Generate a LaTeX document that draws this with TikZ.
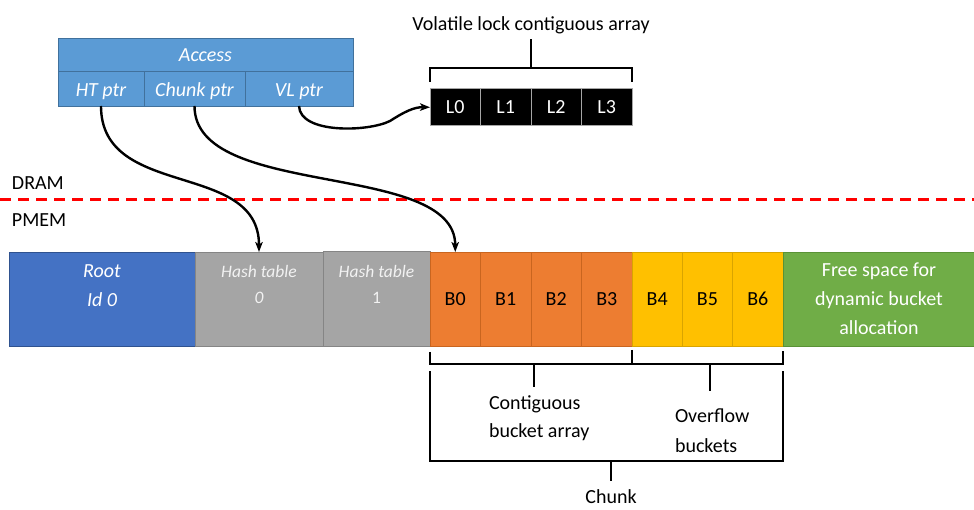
\documentclass[tikz,border=0pt]{standalone}
\usepackage{fontspec}
\setmainfont{Carlito}
\usetikzlibrary{arrows.meta}

\definecolor{accessblue}{HTML}{5B9BD5}
\definecolor{accessedge}{HTML}{41719C}
\definecolor{rootblue}{HTML}{4472C4}
\definecolor{rootedge}{HTML}{2F528F}
\definecolor{htgray}{HTML}{A5A5A5}
\definecolor{htedge}{HTML}{858585}
\definecolor{htext}{HTML}{F2F2F2}
\definecolor{bkorange}{HTML}{ED7D31}
\definecolor{bkorangeedge}{HTML}{C9651F}
\definecolor{bkyellow}{HTML}{FFC000}
\definecolor{bkyellowedge}{HTML}{D9A400}
\definecolor{freegreen}{HTML}{70AD47}
\definecolor{freeedge}{HTML}{5A9236}
\definecolor{lockedge}{HTML}{A6A6A6}
\definecolor{memline}{HTML}{FF0000}

\tikzset{
  cell/.style={rectangle, inner sep=0pt, outer sep=0pt, anchor=north west, line width=0.8pt},
  txt/.style={inner sep=0pt, outer sep=0pt, anchor=base, font=\fontsize{20}{29}\selectfont},
  smalltxt/.style={inner sep=0pt, outer sep=0pt, anchor=base, font=\fontsize{17.5}{26}\selectfont\itshape, text=htext},
  acc/.style={cell, fill=accessblue, draw=accessedge},
  lock/.style={cell, fill=black, draw=lockedge, line width=1pt, minimum width=50.5pt, minimum height=36.5pt,
               text=white, font=\fontsize{20}{24}\selectfont},
  bucket/.style={cell, minimum height=94pt, font=\fontsize{20}{24}\selectfont},
  orangebk/.style={bucket, fill=bkorange, draw=bkorangeedge, minimum width=50.5pt},
  yellowbk/.style={bucket, fill=bkyellow, draw=bkyellowedge, minimum width=50.33pt},
  conn/.style={line width=2.4pt, -{Stealth[length=10pt,width=7.5pt,inset=2.5pt]}},
  brace/.style={line width=2.6pt, line cap=butt, line join=miter},
}

\begin{document}
\begin{tikzpicture}[x=1pt,y=-1pt]
\useasboundingbox (0,0) rectangle (974,510);

% ---- Access structure (DRAM) ----
\node[acc, minimum width=295pt, minimum height=33pt] (access) at (58,38) {};
\node[acc, minimum width=86pt,  minimum height=35pt] (htp)    at (58,71) {};
\node[acc, minimum width=101pt, minimum height=35pt] (chp)    at (144,71) {};
\node[acc, minimum width=108pt, minimum height=35pt] (vlp)    at (245,71) {};
\node[txt, font=\fontsize{20}{24}\selectfont\itshape, text=white] (accessT) at (205.5,62) {Access};
\node[txt, font=\fontsize{20}{24}\selectfont\itshape, text=white] (htpT) at (101,97) {HT ptr};
\node[txt, font=\fontsize{20}{24}\selectfont\itshape, text=white] (chpT) at (194.5,97) {Chunk ptr};
\node[txt, font=\fontsize{20}{24}\selectfont\itshape, text=white] (vlpT) at (299,97) {VL ptr};

% ---- Volatile lock array ----
\node[lock] (l0) at (430,89)   {L0};
\node[lock] (l1) at (480.5,89) {L1};
\node[lock] (l2) at (531,89)   {L2};
\node[lock] (l3) at (581.5,89) {L3};
\node[txt] (volT) at (531,31) {Volatile lock contiguous array};
\draw[brace] (430,82) -- (430,68) -- (632,68) -- (632,82);
\draw[brace] (531,68) -- (531,39);

% ---- DRAM / PMEM boundary ----
\node[txt, anchor=base west] (dramT) at (12,190) {DRAM};
\node[txt, anchor=base west] (pmemT) at (12,227) {PMEM};
\coordinate (bndL) at (0,200);
\coordinate (bndR) at (974,200);
\draw[memline, line width=3pt, dash pattern=on 11pt off 7pt] (bndL) -- (bndR);

% ---- Persistent memory layout ----
\node[cell, fill=rootblue, draw=rootedge, minimum width=186pt, minimum height=94pt] (root) at (9,252) {};
\node[cell, fill=htgray, draw=htedge, minimum width=128pt, minimum height=94pt] (ht0) at (195,252) {};
\node[cell, fill=htgray, draw=htedge, minimum width=107pt, minimum height=95pt] (ht1) at (323,251) {};
\node[orangebk] (b0) at (430,252)   {B0};
\node[orangebk] (b1) at (480.5,252) {B1};
\node[orangebk] (b2) at (531,252)   {B2};
\node[orangebk] (b3) at (581.5,252) {B3};
\node[yellowbk] (b4) at (632,252)    {B4};
\node[yellowbk] (b5) at (682.33,252) {B5};
\node[yellowbk] (b6) at (732.67,252) {B6};
\node[cell, fill=freegreen, draw=freeedge, minimum width=192pt, minimum height=94pt] (free) at (783,252) {};

\node[txt, font=\fontsize{20}{24}\selectfont\itshape, text=white] (rootA) at (102,278) {Root};
\node[txt, font=\fontsize{20}{24}\selectfont\itshape, text=white] (rootB) at (102,307) {Id 0};
\node[smalltxt] (ht0A) at (259,278) {Hash table};
\node[smalltxt] (ht0B) at (259,304) {0};
\node[smalltxt] (ht1A) at (376.5,278) {Hash table};
\node[smalltxt, font=\fontsize{17.5}{26}\selectfont] (ht1B) at (376.5,304) {1};
\node[txt, text=white] (freeA) at (879,277) {Free space for};
\node[txt, text=white] (freeB) at (879,306) {dynamic bucket};
\node[txt, text=white] (freeC) at (879,335) {allocation};

% ---- Pointers ----
\draw[conn] (htp.south) .. controls (101,200) and (259,160) .. (ht0.north);
\draw[conn] (chp.south) .. controls (194.5,200) and (455,160) .. (b0.north);
\draw[conn] (vlp.south) .. controls (300,134) and (368,132) .. (390,121)
                        .. controls (404,112) and (414,107) .. (l0.west);

% ---- Brackets below the buckets ----
\draw[brace] (430,352) -- (430,364) -- (783,364) -- (783,351);
\draw[brace] (632,350) -- (632,364);
\draw[brace] (534,364) -- (534,387);
\draw[brace] (710,364) -- (710,391);
\draw[brace] (430,371) -- (430,461) -- (783,461) -- (783,371);
\draw[brace] (611,461) -- (611,481);

\node[txt, anchor=base west] (contA) at (489,409) {Contiguous};
\node[txt, anchor=base west] (contB) at (489,437) {bucket array};
\node[txt, anchor=base west] (ovfA) at (675,422) {Overflow};
\node[txt, anchor=base west] (ovfB) at (675,452) {buckets};
\node[txt] (chunkT) at (611,503) {Chunk};
\end{tikzpicture}
\end{document}
